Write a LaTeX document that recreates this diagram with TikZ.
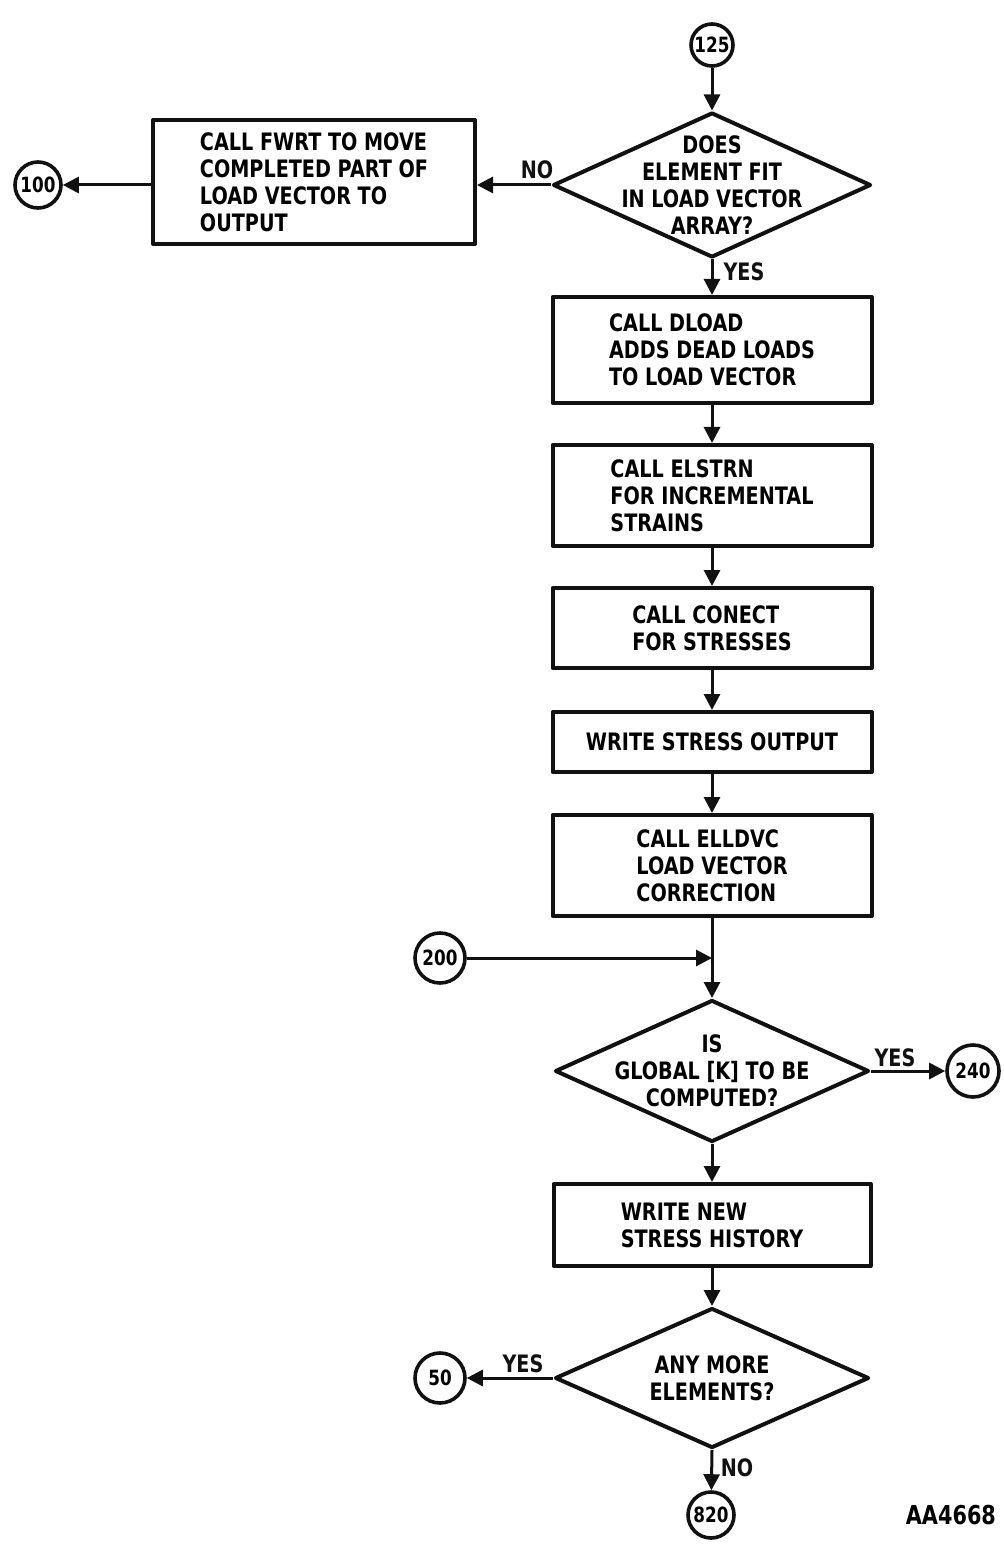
\documentclass[tikz,border=0pt]{standalone}
\usepackage{fontspec}
\setmainfont{DejaVu Sans}[FakeStretch=0.8]
\usetikzlibrary{shapes.geometric,arrows.meta}
\definecolor{ink}{HTML}{111111}
\newcommand{\flowfont}{\fontsize{12}{13.5}\selectfont\bfseries}
\tikzset{
  every picture/.style = {font=\flowfont, line join=round},
  stepbox/.style       = {draw=ink, line width=2pt, minimum width=159.5pt, align=left, inner sep=0pt},
  decision/.style      = {diamond, draw=ink, line width=2pt, minimum width=157pt, minimum height=71pt, inner sep=0pt},
  conn/.style          = {circle, draw=ink, line width=1.8pt, minimum size=25pt, inner sep=0pt, font=\fontsize{10.5}{12}\selectfont\bfseries},
  flow/.style          = {line width=1.5pt, draw=ink, -{Triangle[length=8pt,width=8pt]}},
  wire/.style          = {line width=1.5pt, draw=ink},
  tag/.style           = {text=ink, inner sep=1pt},
}

\begin{document}
\begin{tikzpicture}[x=0.5pt, y=-0.5pt]
  \useasboundingbox (0,0) rectangle (1004,1545);

  % ---------- top: does the element fit ------------------------------------
  \node[conn, minimum size=21pt] (c125) at (712,45) {125};
  \node[decision, minimum width=159pt, minimum height=72.5pt] (fits) at (712,185) {};
  \node[align=center] (fitsq) at (fits) {DOES\\ELEMENT FIT\\IN LOAD VECTOR\\ARRAY?};
  \node[stepbox, minimum width=161pt, minimum height=62pt] (fwrt) at (314,182)
    {CALL FWRT TO MOVE\\COMPLETED PART OF\\LOAD VECTOR TO\\OUTPUT};
  \node[conn, minimum size=23pt] (c100) at (38,185) {100};

  \draw[flow] (c125) -- (fits.north);
  \draw[flow] (fits.west) -- (fwrt.east |- fits.west);
  \draw[flow] (fwrt.west |- fits.west) -- (c100);
  \node[tag] (nofit) at (537,170) {NO};
  \node[tag] (yesfit) at (744,272) {YES};

  % ---------- the element loop ------------------------------------------------
  \node[stepbox, minimum height=53pt] (dload) at (712,350)
    {CALL DLOAD\\ADDS DEAD LOADS\\TO LOAD VECTOR};
  \node[stepbox, minimum height=50.5pt] (elstrn) at (712,495.5)
    {CALL ELSTRN\\FOR INCREMENTAL\\STRAINS};
  \node[stepbox, minimum height=40pt] (conect) at (712,628)
    {CALL CONECT\\FOR STRESSES};
  \node[stepbox, minimum height=30pt] (wrout) at (712,742)
    {WRITE STRESS OUTPUT};
  \node[stepbox, minimum height=50.5pt] (elldvc) at (712,865.5)
    {CALL ELLDVC\\LOAD VECTOR\\CORRECTION};

  \draw[flow] (fits.south) -- (dload);
  \draw[flow] (dload) -- (elstrn);
  \draw[flow] (elstrn) -- (conect);
  \draw[flow] (conect) -- (wrout);
  \draw[flow] (wrout) -- (elldvc);

  % ---------- global stiffness and history ------------------------------------
  \node[decision] (glbk) at (712,1071) {};
  \node[align=center] (glbkq) at (glbk) {IS\\GLOBAL [K] TO BE\\COMPUTED?};
  \node[conn] (c200) at (440,958) {200};
  \node[conn, minimum size=26pt] (c240) at (973,1071) {240};
  \coordinate (join) at (712,958);

  \draw[flow] (elldvc) -- (glbk.north);
  \draw[flow] (c200) -- (join);
  \draw[flow] (glbk.east) -- (c240);
  \node[tag] (yesk) at (895,1058) {YES};

  \node[stepbox, minimum width=158.5pt, minimum height=41pt] (wrhist) at (712,1225)
    {WRITE NEW\\STRESS HISTORY};
  \draw[flow] (glbk.south) -- (wrhist);

  % ---------- any more elements -----------------------------------------------
  \node[decision, minimum height=70pt] (more) at (712,1378) {};
  \node[align=center] (moreq) at (more) {ANY MORE\\ELEMENTS?};
  \node[conn] (c50) at (440,1378) {50};
  \node[conn, minimum size=23pt] (c820) at (711,1515) {820};

  \draw[flow] (wrhist) -- (more.north);
  \draw[flow] (more.west) -- (c50);
  \draw[flow] (more.south) -- (c820);
  \node[tag] (yesmore) at (523,1364) {YES};
  \node[tag] (nomore) at (737,1468) {NO};

  \node[anchor=east, font=\fontsize{13}{14}\selectfont\bfseries] (fignum) at (1003,1515) {AA4668};
\end{tikzpicture}
\end{document}
